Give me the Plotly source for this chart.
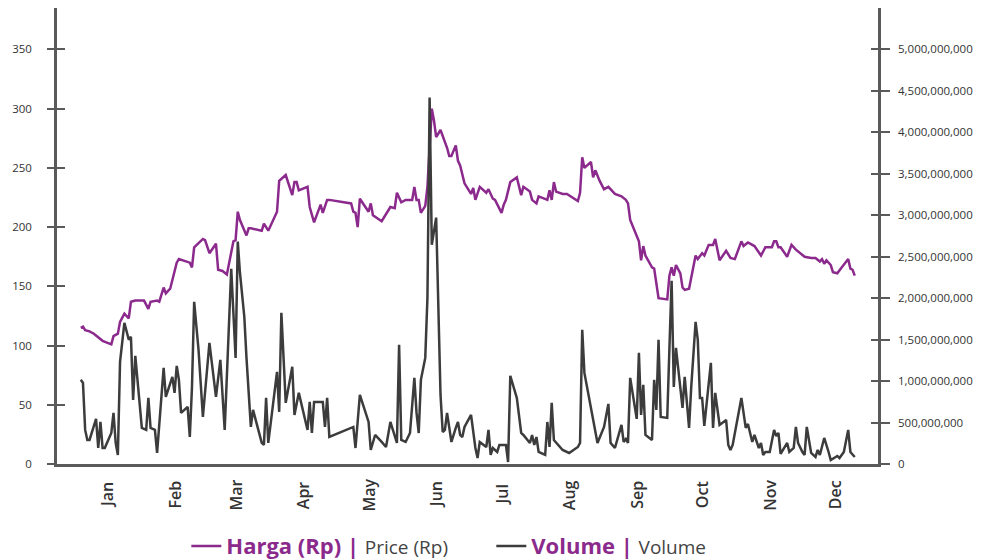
import pandas as pd
import plotly.graph_objects as go

# Daily closing price (Rp) – trading day of year (0 = 1 Jan)
price_days = [2, 3, 4, 6, 8, 11, 12, 16, 17, 19,
              20, 22, 24, 25, 27, 31, 33, 34, 37, 38,
              40, 41, 43, 46, 47, 52, 53, 54, 58, 59,
              61, 64, 65, 67, 69, 72, 73, 74, 75, 78,
              79, 80, 85, 86, 88, 92, 93, 96, 99, 100,
              101, 102, 106, 107, 109, 112, 113, 115, 116, 126,
              127, 128, 129, 130, 132, 134, 135, 136, 140, 144,
              146, 147, 149, 151, 154, 155, 156, 157, 158, 160,
              161, 163, 164, 165, 167, 170, 171, 172, 174, 175,
              176, 178, 181, 182, 183, 185, 188, 189, 191, 192,
              195, 196, 197, 199, 202, 203, 204, 205, 208, 209,
              211, 212, 216, 217, 218, 219, 220, 223, 225, 230,
              231, 232, 233, 236, 237, 238, 240, 242, 244, 247,
              250, 252, 253, 254, 256, 258, 259, 260, 261, 264,
              265, 266, 267, 271, 272, 273, 274, 275, 277, 278,
              279, 281, 282, 284, 285, 287, 288, 290, 292, 293,
              295, 298, 300, 302, 305, 306, 308, 311, 314, 316,
              319, 320, 321, 322, 323, 326, 328, 330, 334, 337,
              339, 341, 342, 343, 344, 346, 347, 349, 351, 354,
              355, 356, 357]
price_values = [115, 116, 113, 112, 110, 105, 104, 101, 108, 110,
                120, 127, 123, 137, 138, 138, 131, 137, 138, 137,
                149, 144, 148, 170, 173, 170, 166, 183, 190, 189,
                178, 186, 164, 163, 160, 188, 189, 213, 206, 193,
                199, 199, 197, 203, 197, 213, 239, 244, 227, 238,
                238, 231, 234, 217, 204, 219, 212, 223, 223, 220,
                213, 212, 200, 224, 218, 213, 220, 210, 205, 217,
                216, 229, 221, 223, 223, 234, 223, 223, 212, 218,
                234, 300, 290, 276, 282, 267, 260, 260, 269, 256,
                252, 237, 228, 233, 223, 234, 229, 232, 224, 223,
                212, 219, 223, 238, 242, 233, 227, 234, 230, 223,
                220, 226, 223, 231, 223, 238, 230, 228, 228, 222,
                229, 259, 250, 255, 242, 248, 239, 232, 234, 228,
                226, 223, 220, 206, 197, 188, 172, 184, 176, 166,
                165, 151, 140, 139, 159, 166, 159, 168, 161, 149,
                147, 148, 158, 176, 173, 178, 176, 185, 185, 190,
                172, 180, 174, 173, 188, 184, 187, 184, 176, 183,
                183, 188, 188, 183, 183, 175, 185, 181, 175, 174,
                174, 171, 173, 169, 172, 168, 162, 161, 166, 173,
                165, 164, 159]

# Daily traded volume (millions of shares)
volume_days = [2, 3, 4, 5, 6, 9, 10, 11, 12, 13,
               16, 17, 18, 19, 20, 22, 24, 25, 26, 27,
               30, 32, 33, 34, 36, 37, 40, 41, 44, 45,
               46, 47, 48, 51, 52, 53, 54, 56, 58, 61,
               64, 66, 68, 71, 73, 74, 75, 77, 78, 80,
               81, 85, 86, 87, 88, 92, 93, 94, 96, 99,
               100, 102, 106, 107, 108, 109, 113, 114, 115, 116,
               127, 128, 130, 134, 135, 137, 140, 142, 144, 147,
               148, 149, 151, 153, 155, 156, 157, 158, 160, 161,
               162, 163, 165, 166, 167, 168, 169, 170, 172, 174,
               175, 176, 177, 178, 181, 183, 184, 185, 188, 189,
               190, 191, 193, 194, 197, 198, 199, 202, 204, 205,
               208, 209, 210, 211, 212, 215, 216, 217, 218, 219,
               223, 226, 230, 231, 232, 233, 237, 239, 242, 244,
               245, 247, 250, 251, 252, 253, 254, 257, 258, 259,
               260, 261, 264, 265, 266, 267, 268, 271, 272, 273,
               274, 275, 278, 279, 281, 282, 284, 285, 286, 287,
               288, 291, 292, 293, 295, 296, 298, 299, 300, 301,
               305, 307, 308, 310, 311, 313, 314, 315, 316, 318,
               320, 321, 322, 323, 326, 327, 329, 330, 331, 333,
               334, 335, 337, 339, 340, 341, 343, 345, 346, 349,
               350, 352, 354, 355, 357]
volume_mn = [1015, 978, 411, 290, 290, 544, 193, 507, 193, 193,
             374, 616, 254, 109, 1232, 1703, 1498, 1534, 773, 1305,
             435, 411, 797, 435, 411, 133, 1160, 809, 1051, 858,
             1184, 1015, 616, 689, 326, 930, 1957, 1377, 568, 1462,
             809, 1256, 411, 2355, 1280, 2682, 2307, 1776, 1280, 447,
             652, 254, 230, 797, 254, 1111, 628, 1824, 737, 1172,
             592, 858, 411, 749, 374, 749, 749, 447, 797, 326,
             447, 193, 833, 507, 169, 350, 266, 205, 507, 254,
             1437, 290, 266, 374, 1039, 616, 374, 1015, 1280, 2005,
             4421, 2645, 2972, 1703, 833, 386, 411, 616, 266, 435,
             507, 350, 326, 447, 592, 193, 72, 266, 205, 411,
             109, 193, 145, 230, 230, 24, 1063, 797, 374, 350,
             254, 350, 230, 326, 145, 109, 507, 205, 737, 290,
             169, 133, 205, 254, 1619, 1099, 556, 254, 447, 725,
             254, 193, 471, 266, 302, 254, 1039, 544, 1341, 592,
             954, 350, 290, 1015, 652, 1498, 568, 556, 1401, 2211,
             930, 1401, 676, 1051, 435, 930, 1715, 1498, 797, 797,
             459, 1220, 435, 858, 471, 495, 531, 230, 169, 230,
             797, 435, 483, 266, 350, 193, 254, 109, 145, 145,
             411, 338, 374, 121, 254, 145, 193, 447, 254, 145,
             109, 447, 133, 85, 169, 109, 314, 145, 48, 97,
             72, 145, 411, 145, 85]

months = ["Jan", "Feb", "Mar", "Apr", "May", "Jun",
          "Jul", "Aug", "Sep", "Oct", "Nov", "Dec"]
price_ticks = [0, 50, 100, 150, 200, 250, 300, 350]
volume_ticks = [i * 500_000_000 for i in range(11)]

PURPLE = "#8B2A8C"
DARK = "#3c3c3c"
AXIS = "#5a5a5a"
FONT = "Open Sans"

base = pd.Timestamp("2019-01-01")
price_dates = base + pd.to_timedelta(price_days, unit="D")
volume_dates = base + pd.to_timedelta(volume_days, unit="D")
volume = [v * 1e6 for v in volume_mn]
month_mid = [pd.Timestamp(2019, i + 1, 15) for i in range(12)]

sub_style = "font-size:19px;font-weight:normal;color:#444"

fig = go.Figure()
fig.add_trace(go.Scatter(
    x=price_dates, y=price_values, mode="lines",
    line=dict(color=PURPLE, width=2.5),
    name=f"<b>Harga (Rp) |</b> <span style='{sub_style}'>Price (Rp)</span>",
    yaxis="y"
))
fig.add_trace(go.Scatter(
    x=volume_dates, y=volume, mode="lines",
    line=dict(color=DARK, width=2.5),
    name=f"<b>Volume |</b> <span style='{sub_style}'>Volume</span>",
    yaxis="y2"
))
# empty traces so the inner tick axes get drawn
fig.add_trace(go.Scatter(x=[], y=[], yaxis="y3", showlegend=False, hoverinfo="skip"))
fig.add_trace(go.Scatter(x=[], y=[], yaxis="y4", showlegend=False, hoverinfo="skip"))

for m, d in zip(months, month_mid):
    fig.add_annotation(
        x=d, y=-0.068, xref="x", yref="paper",
        text=m, textangle=-90, showarrow=False,
        xanchor="center", yanchor="middle",
        font=dict(family=FONT, size=16, color="#333", weight=600)
    )

tickfont = dict(family=FONT, size=11.5, color="#333")

# the page body adds an 8px offset, so the margins are shifted by that amount
fig.update_layout(
    width=989, height=560,
    margin=dict(l=49, r=119, t=0, b=104, autoexpand=False),
    plot_bgcolor="white", paper_bgcolor="white",
    font=dict(family=FONT),
    xaxis=dict(
        type="date",
        range=["2018-12-23 02:00", "2020-01-03 16:00"],
        showline=True, linecolor=AXIS, linewidth=2.5,
        showgrid=False, zeroline=False, ticks="", showticklabels=False,
        automargin=False
    ),
    yaxis=dict(
        range=[0, 385], tickmode="array", tickvals=price_ticks,
        showline=True, linecolor=AXIS, linewidth=2.5,
        ticks="outside", ticklen=7, tickwidth=1.5, tickcolor=AXIS,
        showgrid=False, zeroline=False, automargin=False,
        tickfont=tickfont, ticklabelstandoff=13
    ),
    yaxis3=dict(
        range=[0, 385], tickmode="array", tickvals=price_ticks,
        overlaying="y", side="left",
        ticks="inside", ticklen=8, tickwidth=1.5, tickcolor=AXIS,
        showticklabels=False, showline=False, showgrid=False, zeroline=False
    ),
    yaxis2=dict(
        range=[0, 5.5e9], tickmode="array", tickvals=volume_ticks,
        overlaying="y", side="right", tickformat=",d",
        showline=True, linecolor=AXIS, linewidth=2.5,
        ticks="outside", ticklen=9, tickwidth=1.5, tickcolor=AXIS,
        showgrid=False, zeroline=False, automargin=False,
        tickfont=tickfont, ticklabelstandoff=6
    ),
    yaxis4=dict(
        range=[0, 5.5e9], tickmode="array", tickvals=volume_ticks,
        overlaying="y", side="right",
        ticks="inside", ticklen=7, tickwidth=1.5, tickcolor=AXIS,
        showticklabels=False, showline=False, showgrid=False, zeroline=False
    ),
    legend=dict(
        orientation="h", x=0.529, xanchor="center", y=-0.18, yanchor="middle",
        font=dict(family=FONT, size=22, color=PURPLE),
        entrywidth=260, entrywidthmode="pixels",
        bgcolor="rgba(0,0,0,0)"
    ),
    showlegend=True
)

fig.write_html("out.html")
